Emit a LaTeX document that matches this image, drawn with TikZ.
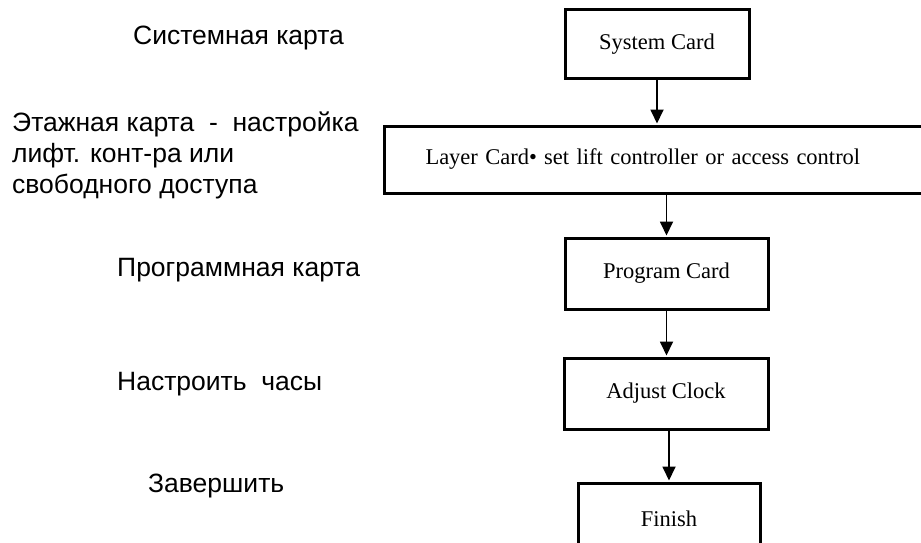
\documentclass[tikz,border=0pt]{standalone}
\usepackage{fontspec}
\setmainfont{Liberation Serif}
\newfontfamily\rufont{Liberation Sans}
\usetikzlibrary{arrows.meta}
\begin{document}
\begin{tikzpicture}[x=1pt,y=-1pt,
  box/.style={draw,line width=3pt,inner sep=0pt,font=\fontsize{22.5}{26}\selectfont},
  flow/.style={line width=1.8pt,-{Triangle[width=13pt,length=14pt]},shorten >=1pt},
  lbl/.style={font=\rufont\fontsize{26.5}{31}\selectfont,inner sep=0pt,anchor=base west,align=left}]
\useasboundingbox (0,0) rectangle (921,543);
\clip (0,0) rectangle (921,543);
\fill[white] (0,0) rectangle (921,543);
% boxes
\node[box,minimum width=184pt,minimum height=69pt] (sys) at (657,44.5) {System Card};
\node[box,anchor=west,text width=520pt,align=left,inner xsep=41pt,minimum height=67pt] (layer) at (383,159.5) {Layer Card•\hspace{7pt}set lift controller or access control};
\node[box,minimum width=203pt,minimum height=71pt] (prog) at (666.5,273.5) {Program Card};
\node[box,minimum width=204pt,minimum height=71pt] (adj) at (666,393.5) {Adjust Clock};
\node[box,minimum width=182pt,minimum height=71pt,text depth=0pt] (fin) at (669,518.5) {Finish};
% connectors
\draw[flow] (sys.south) -- (sys.south |- layer.north);
\draw[flow] (prog.north |- layer.south) -- (prog.north);
\draw[flow] (prog.south) -- (prog.south |- adj.north);
\draw[flow] ([xshift=3pt]adj.south) -- ([xshift=3pt]adj.south |- fin.north);
% labels
\node[lbl] (l1) at (133,45) {Системная карта};
\node[lbl] (l2) at (12,193) {Этажная карта~~-~~настройка\\лифт. конт-ра или\\свободного доступа};
\node[lbl] (l3) at (117,276) {Программная карта};
\node[lbl] (l4) at (117,390) {Настроить~~часы};
\node[lbl] (l5) at (148,492) {Завершить};
\end{tikzpicture}
\end{document}
